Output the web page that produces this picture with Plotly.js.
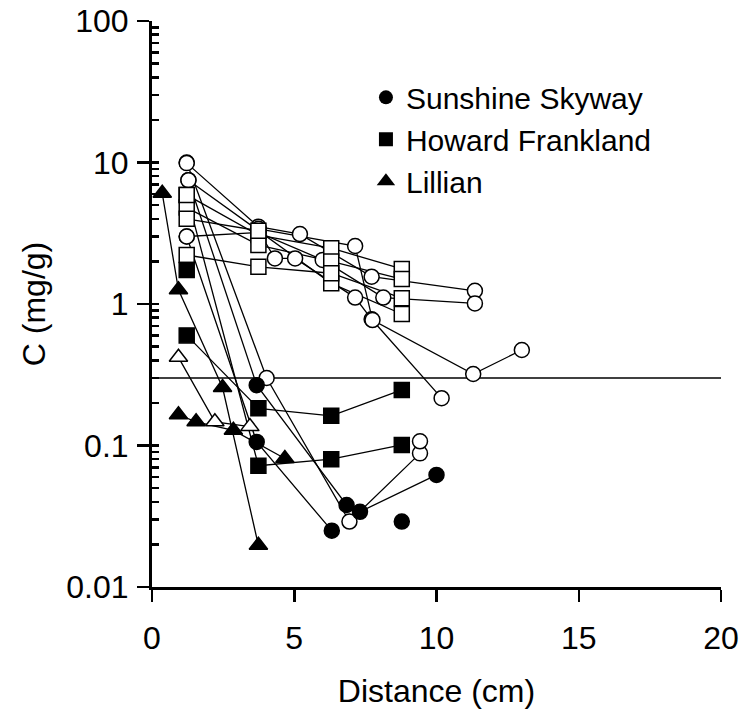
<!DOCTYPE html>
<html>
<head>
<meta charset="utf-8">
<script src="https://cdn.plot.ly/plotly-3.0.1.min.js"></script>
<style>html,body{margin:0;padding:0;background:#fff;}#chart{width:740px;height:709px;}</style>
</head>
<body>
<div id="chart"></div>
<script>
// ---- data (distance cm, concentration mg/g, fill: 1 = filled, 0 = open) ----
// Sunshine Skyway profiles (circles)
const ss1Dist = [1.22, 4.03, 6.94, 9.42];
const ss1Conc = [10.0, 0.30, 0.029, 0.088];
const ss1Fill = [0, 0, 0, 0];
const ss2Dist = [1.22, 3.74, 5.2, 7.72, 11.35];
const ss2Conc = [9.9, 3.52, 3.12, 1.56, 1.24];
const ss2Fill = [0, 0, 0, 0, 0];
const ss3Dist = [1.28, 3.68, 6.84, 7.31, 10.0];
const ss3Conc = [7.5, 0.267, 0.038, 0.034, 0.062];
const ss3Fill = [0, 1, 1, 1, 1];
const ss4Dist = [1.28, 3.74, 4.32, 5.03, 7.14, 7.72, 10.18];
const ss4Conc = [7.5, 3.3, 2.1, 2.1, 1.11, 0.78, 0.216];
const ss4Fill = [0, 0, 0, 0, 0, 0, 0];
const ss5Dist = [1.22, 3.68, 6.32];
const ss5Conc = [3.0, 0.106, 0.025];
const ss5Fill = [0, 1, 1];
const ss6Dist = [1.22, 3.74, 6.0, 8.13, 11.35];
const ss6Conc = [3.0, 3.2, 2.05, 1.11, 1.01];
const ss6Fill = [0, 0, 0, 0, 0];
const ss7Dist = [3.74, 7.14, 7.75, 11.29, 13.0];
const ss7Conc = [3.4, 2.57, 0.77, 0.32, 0.473];
const ss7Fill = [0, 0, 0, 0, 0];
const ss8Dist = [8.78, 9.42];
const ss8Conc = [0.029, 0.107];
const ss8Fill = [1, 0];
// Howard Frankland profiles (squares)
const hf1Dist = [1.22, 3.74, 6.3, 8.78];
const hf1Conc = [5.9, 3.07, 2.48, 1.77];
const hf1Fill = [0, 0, 0, 0];
const hf2Dist = [1.22, 3.74, 6.3, 8.78];
const hf2Conc = [4.8, 2.61, 2.0, 1.5];
const hf2Fill = [0, 0, 0, 0];
const hf3Dist = [1.22, 3.74, 6.3, 8.78];
const hf3Conc = [4.0, 3.3, 1.4, 0.85];
const hf3Fill = [0, 0, 0, 0];
const hf4Dist = [1.22, 3.74, 6.3, 8.78];
const hf4Conc = [2.22, 1.83, 1.65, 1.1];
const hf4Fill = [0, 0, 0, 0];
const hf5Dist = [1.22, 3.74, 6.3, 8.78];
const hf5Conc = [0.6, 0.183, 0.162, 0.247];
const hf5Fill = [1, 1, 1, 1];
const hf6Dist = [1.22, 3.74, 6.3, 8.78];
const hf6Conc = [5.9, 0.072, 0.08, 0.101];
const hf6Fill = [0, 1, 1, 1];
const hf7Dist = [1.22];
const hf7Conc = [1.74];
const hf7Fill = [1];
// Lillian profiles (triangles)
const li1Dist = [0.36, 0.93, 2.48, 3.74];
const li1Conc = [6.06, 1.26, 0.257, 0.0197];
const li1Fill = [1, 1, 1, 1];
const li2Dist = [0.93, 1.55, 2.86, 4.67];
const li2Conc = [0.165, 0.147, 0.128, 0.081];
const li2Fill = [1, 1, 1, 1];
const li3Dist = [0.93, 2.21, 3.44];
const li3Conc = [0.42, 0.147, 0.136];
const li3Fill = [0, 0, 0];

const refLevel = 0.3;
const legendNames = ['Sunshine Skyway', 'Howard Frankland', 'Lillian'];
const xTicks = [0, 5, 10, 15, 20];
const yTicks = [0.01, 0.1, 1, 10, 100];
const yTickText = ['0.01', '0.1', '1', '10', '100'];

const profiles = [
  {x: ss1Dist, y: ss1Conc, f: ss1Fill, s: 'circle'},
  {x: ss2Dist, y: ss2Conc, f: ss2Fill, s: 'circle'},
  {x: ss3Dist, y: ss3Conc, f: ss3Fill, s: 'circle'},
  {x: ss4Dist, y: ss4Conc, f: ss4Fill, s: 'circle'},
  {x: ss5Dist, y: ss5Conc, f: ss5Fill, s: 'circle'},
  {x: ss6Dist, y: ss6Conc, f: ss6Fill, s: 'circle'},
  {x: ss7Dist, y: ss7Conc, f: ss7Fill, s: 'circle'},
  {x: ss8Dist, y: ss8Conc, f: ss8Fill, s: 'circle', noLine: true},
  {x: hf1Dist, y: hf1Conc, f: hf1Fill, s: 'square'},
  {x: hf2Dist, y: hf2Conc, f: hf2Fill, s: 'square'},
  {x: hf3Dist, y: hf3Conc, f: hf3Fill, s: 'square'},
  {x: hf4Dist, y: hf4Conc, f: hf4Fill, s: 'square'},
  {x: hf5Dist, y: hf5Conc, f: hf5Fill, s: 'square'},
  {x: hf6Dist, y: hf6Conc, f: hf6Fill, s: 'square'},
  {x: hf7Dist, y: hf7Conc, f: hf7Fill, s: 'square'},
  {x: li1Dist, y: li1Conc, f: li1Fill, s: 'triangle-up'},
  {x: li2Dist, y: li2Conc, f: li2Fill, s: 'triangle-up'},
  {x: li3Dist, y: li3Conc, f: li3Fill, s: 'triangle-up'}
];

const sizeFor = {'circle': 15, 'square': 15, 'triangle-up': 16};
const traces = [];
// connecting lines first (under every marker)
profiles.forEach(p => {
  if (p.noLine || p.x.length < 2) return;
  traces.push({
    type: 'scatter', mode: 'lines', x: p.x, y: p.y,
    line: {color: 'black', width: 1.3}, showlegend: false, hoverinfo: 'skip'
  });
});
// reference line
traces.push({
  type: 'scatter', mode: 'lines', x: [xTicks[0], xTicks[xTicks.length - 1]], y: [refLevel, refLevel],
  line: {color: 'black', width: 1.3}, showlegend: false, hoverinfo: 'skip'
});
// markers
profiles.forEach(p => {
  traces.push({
    type: 'scatter', mode: 'markers', x: p.x, y: p.y,
    marker: {symbol: p.s, size: sizeFor[p.s], color: p.f.map(v => v ? 'black' : 'white'),
             line: {color: 'black', width: 1.5}},
    showlegend: false
  });
});
// legend entries
['circle', 'square', 'triangle-up'].forEach((s, i) => {
  traces.push({
    type: 'scatter', mode: 'markers', x: [null], y: [null], name: legendNames[i],
    marker: {symbol: s, size: s === 'triangle-up' ? 16 : 14, color: 'black', line: {width: 0}},
    showlegend: true
  });
});

const font = 'Arial, "Liberation Sans", sans-serif';
const minorVals = [];
for (let e = -2; e < 2; e++) for (let d = 1; d < 10; d++) minorVals.push(d * Math.pow(10, e));
minorVals.push(100);

const layout = {
  width: 740, height: 709,
  margin: {l: 152, r: 19, t: 21, b: 122},
  paper_bgcolor: 'white', plot_bgcolor: 'white',
  font: {family: font, size: 31, color: 'black'},
  showlegend: true,
  legend: {x: 0.376, y: 0.911, xanchor: 'left', yanchor: 'top', bgcolor: 'rgba(0,0,0,0)',
           font: {family: font, size: 30, color: 'black'}, tracegroupgap: 0, itemwidth: 30},
  xaxis: {
    range: [0, 20], tickvals: xTicks, ticks: 'outside', ticklen: 12, tickwidth: 2.5, tickcolor: 'black',
    showline: true, linewidth: 3, linecolor: 'black', showgrid: false, zeroline: false,
    tickfont: {family: font, size: 32}, ticklabelstandoff: 9,
    title: {text: 'Distance (cm)', font: {family: font, size: 32}, standoff: 26}
  },
  yaxis: {
    type: 'log', range: [-2, 2], tickvals: yTicks, ticktext: yTickText,
    ticks: 'outside', ticklen: 12, tickwidth: 2.5, tickcolor: 'black',
    showline: true, linewidth: 3, linecolor: 'black', showgrid: false, zeroline: false,
    tickfont: {family: font, size: 32}, ticklabelstandoff: 2,
    title: {text: 'C (mg/g)', font: {family: font, size: 32}, standoff: 12}
  },
  yaxis2: {
    type: 'log', range: [-2, 2], overlaying: 'y', side: 'left', tickvals: minorVals,
    ticks: 'inside', ticklen: 7, tickwidth: 2.5, tickcolor: 'black', showticklabels: false,
    showline: false, showgrid: false, zeroline: false
  }
};
// dummy trace to activate yaxis2 ticks
traces.push({type: 'scatter', mode: 'markers', x: [null], y: [null], yaxis: 'y2', showlegend: false, hoverinfo: 'skip'});

Plotly.newPlot('chart', traces, layout, {displayModeBar: false, staticPlot: true});
</script>
</body>
</html>
